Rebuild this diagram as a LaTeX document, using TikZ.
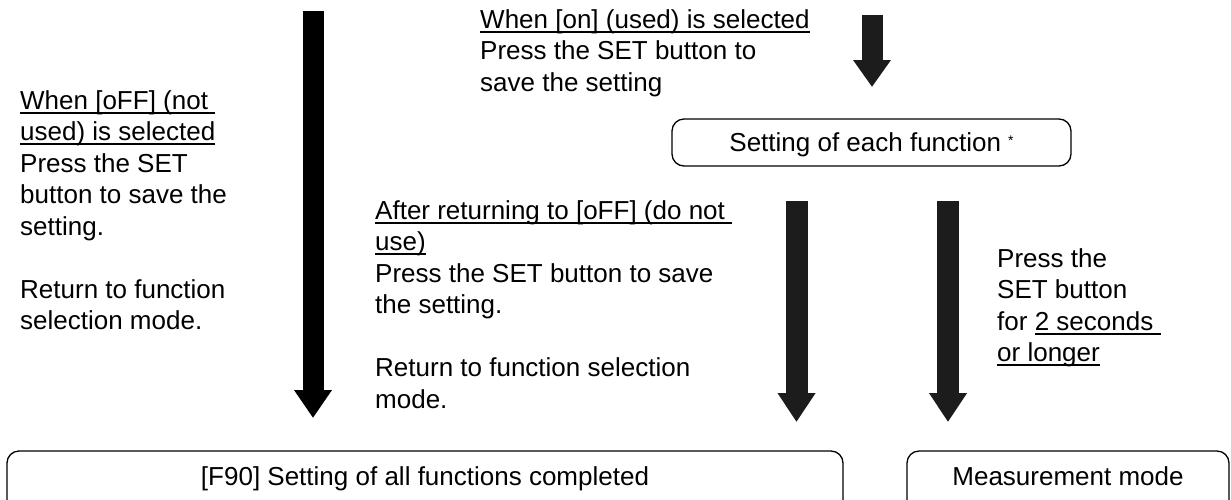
\documentclass[tikz,border=0pt]{standalone}
\usepackage{fontspec}
\setmainfont{Liberation Sans}
\usetikzlibrary{arrows.meta}
\definecolor{arrowgray}{HTML}{1C1C1C}
\newcommand\ulx[1]{\setbox0=\hbox{#1}\rlap{\rule[-4.5pt]{\wd0}{1.8pt}}\box0}
\newcommand\firstln{\rule{0pt}{22pt}}
\begin{document}
\begin{tikzpicture}[x=1pt,y=-1pt,
  txt/.style={anchor=north west,inner sep=0pt,align=left,
    font=\fontsize{26}{31.5}\selectfont},
  roundbox/.style={draw,line width=1.3pt,rounded corners=12pt,inner sep=0pt,
    font=\fontsize{26}{31.5}\selectfont},
  bigarrow/.style={line width=21pt,-{Triangle[width=36pt,length=28pt]}},
  midarrow/.style={draw=arrowgray,line width=22pt,-{Triangle[width=36pt,length=29pt]}}]
\useasboundingbox[fill=white] (0,0) rectangle (1231,499);

% boxes
\node[roundbox,minimum width=399pt,minimum height=47pt,text height=18.7pt,text depth=0pt]
  (each) at (871.5,142.5) {Setting of each function\hspace{7pt}\raisebox{6pt}{\fontsize{14}{14}\selectfont *}};
\node[roundbox,minimum width=836pt,minimum height=68pt,text height=19pt,text depth=19pt]
  (fin) at (425,485) {[F90] Setting of all functions completed};
\node[roundbox,minimum width=322pt,minimum height=68pt,text height=19pt,text depth=19pt]
  (meas) at (1068,485) {Measurement mode};

% texts
\node[txt] (offtxt) at (20,87) {\firstln\ulx{When [oFF] (not\ }\\
  \ulx{used) is selected}\\
  Press the SET\\
  button to save the\\
  setting.\\[31.5pt]
  Return to function\\
  selection mode.};
\node[txt] (ontxt) at (480,6) {\firstln\ulx{When [on] (used) is selected}\\
  Press the SET button to\\
  save the setting};
\node[txt] (rettxt) at (375,197) {\firstln\ulx{After returning to [oFF] (do not\ }\\
  \ulx{use)}\\
  Press the SET button to save\\
  the setting.\\[31.5pt]
  Return to function selection\\
  mode.};
\node[txt] (presstxt) at (997,245) {\firstln Press the\\
  SET button\\
  for \ulx{2 seconds\ }\\
  \ulx{or longer}};

% arrows
\coordinate (a1s) at (313,11);
\coordinate (a1e) at (313,418);
\coordinate (a2s) at (872,15);
\coordinate (a2e) at (872,87);
\coordinate (a3s) at (796.5,201);
\coordinate (a3e) at (796.5,422);
\coordinate (a4s) at (948,201);
\coordinate (a4e) at (948,422);
\draw[bigarrow] (a1s) -- (a1e);
\draw[midarrow,line width=21pt,-{Triangle[width=36pt,length=27pt]}] (a2s) -- (a2e);
\draw[midarrow] (a3s) -- (a3e);
\draw[midarrow] (a4s) -- (a4e);
\end{tikzpicture}
\end{document}
